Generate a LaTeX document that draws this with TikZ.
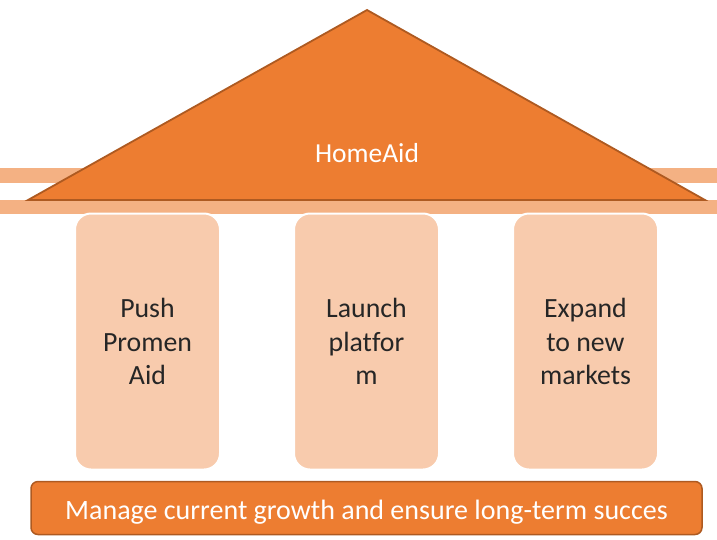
\documentclass[tikz,border=0pt]{standalone}
\usepackage{fontspec}
\setmainfont{Carlito}[Ligatures=NoCommon]
\begin{document}
\definecolor{roofOrange}{HTML}{ED7D31}
\definecolor{roofEdge}{HTML}{AE5A21}
\definecolor{beamColor}{HTML}{F4B183}
\definecolor{pillarColor}{HTML}{F8CBAD}
\definecolor{pillarText}{HTML}{262626}
\begin{tikzpicture}[x=1pt,y=-1pt,
  beam/.style={fill=beamColor,draw=none},
  roof/.style={fill=roofOrange,draw=roofEdge,line width=1.8pt,line join=miter},
  pillar/.style={fill=pillarColor,draw=white,line width=2pt,rounded corners=16pt,
    minimum width=145pt,minimum height=256pt,inner sep=0pt,
    text=pillarText,align=center,font=\fontsize{27.8}{33.5}\selectfont},
  basebox/.style={fill=roofOrange,draw=roofEdge,line width=1.5pt,rounded corners=7pt,
    minimum width=671pt,minimum height=53pt,inner sep=0pt,
    text=white,font=\fontsize{28}{34}\selectfont}]
  \useasboundingbox (0,0) rectangle (717,539);
  % horizontal beams behind the roof
  \fill[beam] (0,168) rectangle (717,183);
  \fill[beam] (0,200) rectangle (717,214);
  % pillars
  \node[pillar] (p1) at (147.5,341.5) {Push\\Promen\\Aid};
  \node[pillar] (p2) at (366.5,341.5) {Launch\\platfor\\m};
  \node[pillar] (p3) at (585.5,341.5) {Expand\\to new\\markets};
  % roof
  \draw[roof] (28,200) -- (367,10) -- (705,200) -- cycle;
  \node[text=white,font=\fontsize{27.5}{33}\selectfont] (title) at (367,153) {HomeAid};
  % foundation
  \node[basebox] (base) at (366.5,508) {\raisebox{-4pt}[\height][\depth]{Manage current growth and ensure long-term succes}};
\end{tikzpicture}
\end{document}
